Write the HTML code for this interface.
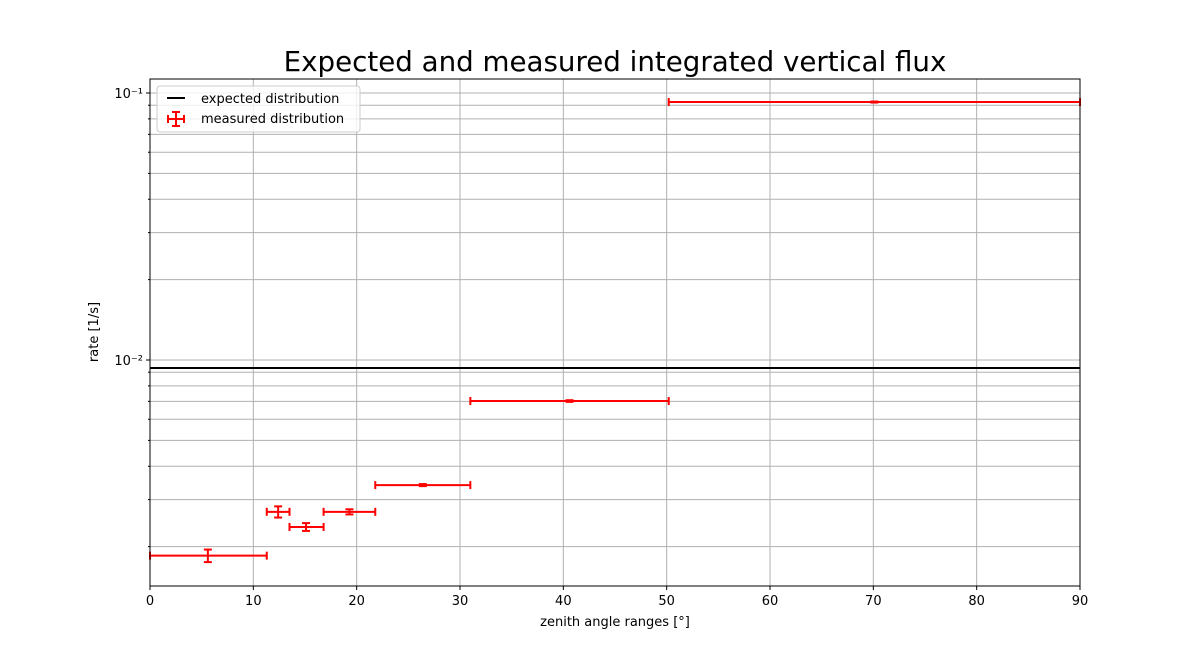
<!DOCTYPE html>
<html><head><meta charset="utf-8"><style>
html,body{margin:0;padding:0;background:#fff;}
svg text{font-family:"DejaVu Sans","Liberation Sans",sans-serif;}
</style></head><body>
<svg id="chart" width="1200" height="658" xmlns="http://www.w3.org/2000/svg">
<text x="615" y="71" font-size="27.7" text-anchor="middle">Expected and measured integrated vertical flux</text>
<g id="grid"></g>
<g id="marks"></g>
<g id="axes"></g>
<text x="615" y="626" font-size="13" text-anchor="middle">zenith angle ranges [°]</text>
<text x="98" y="332" font-size="13" text-anchor="middle" transform="rotate(-90 98 332)">rate [1/s]</text>
</svg>
<script>
const xCenters=[5.6,12.4,15.1,19.3,26.4,40.6,70.1];
const xLow=[0,11.3,13.5,16.8,21.8,31.0,50.2];
const xHigh=[11.3,13.5,16.8,21.8,31.0,50.2,90];
const yValues=[0.00185,0.00270,0.00237,0.00270,0.00340,0.00702,0.0925];
const yErr=[0.00010,0.00013,0.00008,0.00006,0.00003,0.00005,0.0004];
const expectedValue=[0.00933];
const xTicks=[0,10,20,30,40,50,60,70,80,90];
const yMajor=[0.01,0.1];
const yMajorLabels=["10\u207B\u00B2","10\u207B\u00B9"];
const yMinor=[0.002,0.003,0.004,0.005,0.006,0.007,0.008,0.009,0.02,0.03,0.04,0.05,0.06,0.07,0.08,0.09];

const L=150,R=1080,T=79,B=586;
const X=v=>L+(v-0)/(90-0)*(R-L);
const Y=v=>360-(Math.log10(v)+2)*267;
const NS="http://www.w3.org/2000/svg";
function mk(parent,tag,attrs){const e=document.createElementNS(NS,tag);for(const k in attrs)e.setAttribute(k,attrs[k]);document.getElementById(parent).appendChild(e);return e;}

xTicks.forEach(t=>{
  const g=mk('grid','line',{x1:X(t),x2:X(t),y1:T,y2:B,stroke:'#b0b0b0','stroke-width':1});
  
  
  const tk=mk('axes','line',{x1:X(t),x2:X(t),y1:B,y2:B+4,stroke:'#000'});
  
  
  const tx=mk('axes','text',{x:X(t),y:B+19,'font-size':13,'text-anchor':'middle'});
  tx.textContent=t;
  
  
});
yMinor.concat(yMajor).forEach(v=>{
  const g=mk('grid','line',{x1:L,x2:R,y1:Y(v),y2:Y(v),stroke:'#b0b0b0','stroke-width':1});
  
  
});
yMinor.forEach(v=>{
  const tk=mk('axes','line',{x1:L-2,x2:L,y1:Y(v),y2:Y(v),stroke:'#000'});
  
  
});
yMajor.forEach((v,i)=>{
  const tk=mk('axes','line',{x1:L-4,x2:L,y1:Y(v),y2:Y(v),stroke:'#000'});
  
  
  const tx=mk('axes','text',{x:L-7,y:Y(v)+5,'font-size':13,'text-anchor':'end'});
  tx.textContent=yMajorLabels[i];
  
  
});
const fr=mk('axes','rect',{x:L,y:T,width:R-L,height:B-T,fill:'none',stroke:'#000','stroke-width':1});



const ex=mk('marks','line',{x1:L,x2:R,y1:Y(expectedValue[0]),y2:Y(expectedValue[0]),stroke:'#000','stroke-width':2});



xCenters.forEach((c,i)=>{
  const y=Y(yValues[i]),y1=Y(yValues[i]+yErr[i]),y2=Y(yValues[i]-yErr[i]);
  const x1=X(xLow[i]),x2=X(xHigh[i]),xc=X(c);
  const h=mk('marks','line',{x1:x1,x2:x2,y1:y,y2:y,stroke:'red','stroke-width':2});
  
  
  [x1,x2].forEach(xx=>{const cp=mk('marks','line',{x1:xx,x2:xx,y1:y-4,y2:y+4,stroke:'red','stroke-width':2});
    
    });
  const v=mk('marks','line',{x1:xc,x2:xc,y1:y1,y2:y2,stroke:'red','stroke-width':2});
  
  
  [y1,y2].forEach(yy=>{const cp=mk('marks','line',{x1:xc-4,x2:xc+4,y1:yy,y2:yy,stroke:'red','stroke-width':2});
    
    });
});

const lg=mk('axes','rect',{x:157,y:86,width:203,height:46,rx:3,fill:'#fff','fill-opacity':0.8,stroke:'#ccc'});


const l1=mk('axes','line',{x1:167,x2:185,y1:98,y2:98,stroke:'#000','stroke-width':2});


const t1=mk('axes','text',{x:201,y:103,'font-size':13});
t1.textContent='expected distribution';


[['line',{x1:168,x2:184,y1:119,y2:119}],['line',{x1:176,x2:176,y1:112,y2:126}],['line',{x1:168,x2:168,y1:115,y2:123}],['line',{x1:184,x2:184,y1:115,y2:123}],['line',{x1:172,x2:180,y1:112,y2:112}],['line',{x1:172,x2:180,y1:126,y2:126}]].forEach(a=>{
  a[1].stroke='red';a[1]['stroke-width']=2;
  const s=mk('axes',a[0],a[1]);
  
  
});
const t2=mk('axes','text',{x:201,y:123,'font-size':13});
t2.textContent='measured distribution';


</script>
</body></html>
